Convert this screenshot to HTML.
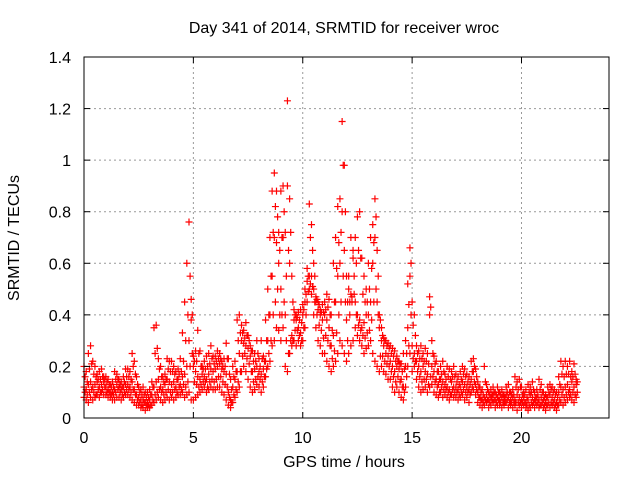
<!DOCTYPE html>
<html><head><meta charset="utf-8"><style>
html,body{margin:0;padding:0;background:#fff;}
svg{display:block;font-family:"Liberation Sans",sans-serif;}
</style></head><body>
<svg id="chart" width="640" height="480" xmlns="http://www.w3.org/2000/svg">
<rect width="640" height="480" fill="#fff"/>
<text x="344" y="33" font-size="16" text-anchor="middle" fill="#000">Day 341 of 2014, SRMTID for receiver wroc</text>
<text x="344" y="467" font-size="16" text-anchor="middle" fill="#000">GPS time / hours</text>
<text x="0" y="0" font-size="16" text-anchor="middle" fill="#000" transform="translate(19,238) rotate(-90)">SRMTID / TECUs</text>
<g id="grid"></g>
<g id="marks"></g>
<rect x="84" y="57" width="525" height="361" fill="none" stroke="#000" stroke-width="1"/>
<g id="ticks"></g>
</svg>
<script>
const xTicks=[0,5,10,15,20];
const yTicks=[0,0.2,0.4,0.6,0.8,1,1.2,1.4];
const yTickLabels=["0","0.2","0.4","0.6","0.8","1","1.2","1.4"];
const tStep=0.1;
const lowVals=[.08,.07,.06,.08,.07,.08,.09,.08,.10,.09,.09,.08,.08,.07,.07,.08,.08,.07,.08,.09,.09,.08,.07,.06,.05,.05,.04,.04,.03,.04,.04,.05,.06,.07,.08,.07,.06,.07,.08,.07,.08,.07,.08,.09,.09,.10,.08,.09,.10,.07,.07,.08,.09,.10,.11,.12,.10,.11,.12,.11,.11,.12,.12,.10,.09,.07,.05,.04,.06,.08,.10,.12,.18,.20,.18,.15,.12,.10,.11,.13,.12,.10,.12,.16,.20,.22,.28,.30,.35,.34,.30,.35,.20,.18,.25,.28,.30,.28,.30,.28,.30,.35,.45,.50,.48,.40,.35,.30,.28,.25,.25,.22,.20,.18,.20,.22,.25,.30,.28,.25,.22,.25,.28,.30,.35,.32,.30,.28,.25,.27,.28,.30,.25,.22,.20,.18,.20,.18,.17,.15,.15,.12,.10,.12,.10,.08,.07,.12,.20,.25,.18,.20,.15,.12,.10,.11,.12,.10,.12,.13,.10,.09,.08,.10,.08,.09,.08,.07,.09,.08,.08,.07,.08,.09,.07,.08,.06,.10,.11,.09,.06,.05,.04,.05,.06,.04,.05,.06,.04,.05,.05,.04,.05,.06,.04,.05,.04,.05,.03,.05,.04,.05,.04,.03,.04,.05,.04,.05,.04,.05,.04,.03,.05,.04,.05,.04,.03,.05,.06,.05,.06,.07,.08,.07,.06,.08];
const lowMidVals=[.10,.09,.10,.11,.10,.09,.11,.10,.11,.12,.10,.10,.09,.09,.10,.11,.10,.09,.10,.11,.11,.10,.11,.09,.07,.06,.05,.06,.05,.05,.05,.07,.09,.10,.11,.10,.09,.10,.11,.10,.10,.11,.10,.12,.11,.13,.12,.14,.20,.25,.14,.13,.12,.13,.14,.14,.12,.14,.15,.14,.15,.16,.16,.14,.13,.12,.08,.06,.09,.11,.14,.18,.24,.25,.23,.21,.18,.14,.15,.16,.15,.14,.16,.19,.25,.30,.40,.45,.50,.40,.40,.45,.30,.25,.30,.30,.34,.34,.32,.30,.35,.40,.49,.52,.51,.45,.40,.36,.34,.31,.32,.30,.28,.23,.26,.33,.40,.45,.55,.45,.30,.40,.45,.48,.40,.36,.34,.32,.31,.33,.34,.38,.45,.50,.40,.24,.24,.22,.21,.20,.18,.16,.14,.16,.14,.12,.10,.16,.28,.40,.23,.22,.18,.16,.14,.15,.15,.13,.16,.16,.14,.12,.10,.12,.11,.11,.10,.09,.11,.10,.10,.09,.10,.11,.10,.10,.09,.12,.14,.11,.08,.07,.06,.07,.07,.06,.07,.07,.06,.07,.06,.06,.06,.07,.06,.06,.06,.06,.06,.06,.06,.06,.05,.05,.06,.06,.06,.06,.05,.06,.05,.05,.06,.06,.06,.05,.05,.07,.09,.08,.09,.10,.09,.10,.09,.10];
const midVals=[.12,.11,.13,.14,.12,.13,.14,.12,.13,.14,.12,.11,.10,.10,.11,.13,.12,.11,.12,.13,.13,.12,.14,.11,.09,.08,.07,.07,.06,.06,.07,.09,.12,.14,.15,.12,.11,.13,.15,.14,.13,.14,.12,.15,.13,.16,.17,.20,.30,.38,.20,.18,.16,.15,.17,.16,.15,.17,.19,.18,.19,.20,.21,.19,.18,.17,.10,.07,.12,.15,.18,.25,.30,.29,.28,.27,.24,.18,.19,.20,.18,.17,.19,.22,.30,.40,.55,.70,.68,.60,.50,.70,.40,.90,.60,.32,.38,.40,.35,.33,.40,.45,.53,.55,.55,.50,.45,.42,.40,.38,.40,.38,.35,.28,.32,.45,.55,.60,.80,.65,.38,.55,.70,.65,.45,.40,.38,.35,.37,.40,.40,.45,.60,.70,.45,.35,.30,.28,.25,.24,.22,.20,.18,.20,.19,.15,.12,.20,.35,.55,.28,.25,.22,.20,.18,.20,.18,.17,.40,.20,.18,.15,.13,.15,.14,.13,.12,.11,.14,.12,.12,.11,.12,.14,.13,.12,.11,.15,.18,.13,.10,.08,.07,.08,.09,.07,.08,.09,.07,.08,.07,.08,.07,.09,.08,.07,.08,.07,.09,.08,.07,.08,.06,.07,.09,.08,.07,.08,.07,.08,.07,.06,.08,.09,.08,.07,.06,.10,.12,.11,.12,.13,.11,.14,.12,.13];
const midHighVals=[.16,.14,.19,.21,.17,.16,.15,.15,.16,.15,.14,.13,.12,.12,.15,.15,.13,.12,.14,.16,.16,.15,.20,.17,.13,.10,.09,.09,.08,.08,.09,.12,.25,.27,.19,.16,.14,.15,.19,.18,.18,.17,.15,.17,.18,.22,.30,.40,.55,.40,.22,.22,.25,.20,.19,.19,.20,.21,.23,.21,.22,.23,.23,.20,.20,.23,.17,.11,.16,.18,.30,.33,.33,.31,.32,.30,.26,.22,.22,.25,.20,.23,.22,.30,.40,.55,.72,.82,.78,.65,.70,.80,.55,.65,.72,.45,.40,.39,.38,.37,.42,.48,.55,.70,.65,.55,.46,.44,.41,.41,.42,.43,.40,.34,.45,.58,.68,.72,.98,.80,.45,.45,.47,.55,.60,.65,.62,.48,.45,.45,.50,.58,.68,.78,.55,.38,.32,.30,.28,.27,.25,.24,.22,.22,.21,.18,.19,.25,.44,.60,.36,.32,.25,.23,.23,.22,.22,.21,.43,.25,.21,.18,.15,.17,.18,.15,.16,.15,.16,.16,.14,.13,.15,.17,.16,.14,.13,.18,.20,.16,.12,.10,.09,.14,.11,.09,.09,.10,.09,.10,.09,.09,.08,.10,.10,.09,.09,.12,.11,.12,.09,.09,.08,.10,.10,.11,.08,.09,.11,.10,.08,.08,.10,.11,.10,.09,.08,.13,.17,.16,.17,.17,.16,.16,.17,.14];
const highVals=[.20,.18,.25,.28,.22,.20,.17,.18,.19,.16,.16,.15,.13,.14,.18,.17,.15,.14,.16,.19,.19,.18,.25,.22,.16,.12,.11,.12,.10,.10,.11,.14,.35,.36,.23,.20,.16,.17,.23,.22,.22,.20,.18,.19,.23,.33,.45,.60,.76,.46,.24,.26,.34,.26,.20,.22,.24,.25,.28,.24,.24,.26,.25,.22,.23,.29,.23,.15,.20,.22,.38,.40,.36,.34,.37,.32,.28,.26,.25,.30,.23,.30,.24,.38,.50,.70,.88,.95,.88,.72,.88,.90,.72,1.23,.85,.55,.42,.38,.41,.42,.44,.50,.58,.83,.75,.60,.47,.45,.42,.44,.45,.48,.46,.40,.60,.70,.82,.85,1.15,.98,.55,.50,.48,.62,.70,.78,.80,.62,.55,.50,.60,.70,.75,.85,.65,.40,.35,.31,.30,.29,.28,.27,.26,.24,.22,.21,.25,.30,.52,.66,.45,.40,.28,.26,.28,.25,.27,.25,.47,.30,.24,.22,.18,.20,.22,.17,.20,.19,.18,.20,.17,.16,.18,.20,.19,.17,.16,.22,.23,.19,.14,.12,.11,.20,.13,.10,.11,.12,.10,.12,.10,.11,.09,.12,.13,.10,.11,.16,.14,.15,.12,.10,.11,.13,.12,.14,.10,.11,.15,.13,.10,.09,.12,.13,.12,.11,.10,.16,.22,.20,.22,.20,.22,.18,.21,.15];
const X0=84,X1=609,Y0=418,Y1=57,XMAX=24,YMAX=1.4;
const sx=v=>X0+(X1-X0)*v/XMAX;
const sy=v=>Y0-(Y0-Y1)*v/YMAX;
const NS="http://www.w3.org/2000/svg";
function mk(tag,attrs,parent){const e=document.createElementNS(NS,tag);for(const k in attrs)e.setAttribute(k,attrs[k]);parent.appendChild(e);return e;}
const grid=document.getElementById('grid'),ticks=document.getElementById('ticks'),marks=document.getElementById('marks');
xTicks.forEach(v=>{const x=sx(v);
 if(v>0){const g=mk('line',{x1:x,x2:x,y1:Y1,y2:Y0,stroke:'#999','stroke-dasharray':'2,3'},grid);
 
 }
 mk('line',{x1:x,x2:x,y1:Y0,y2:Y0-6,stroke:'#000'},ticks);
 mk('line',{x1:x,x2:x,y1:Y1,y2:Y1+6,stroke:'#000'},ticks);
 const t=mk('text',{x:x,y:443,'font-size':16,'text-anchor':'middle',fill:'#000'},ticks);t.textContent=v;
 
 });
yTicks.forEach((v,i)=>{const y=sy(v);
 if(v>0&&v<YMAX){const g=mk('line',{x1:X0,x2:X1,y1:y,y2:y,stroke:'#999','stroke-dasharray':'2,3'},grid);
 
 }
 mk('line',{x1:X0,x2:X0+6,y1:y,y2:y,stroke:'#000'},ticks);
 mk('line',{x1:X1,x2:X1-6,y1:y,y2:y,stroke:'#000'},ticks);
 const t=mk('text',{x:71,y:y+6,'font-size':16,'text-anchor':'end',fill:'#000'},ticks);t.textContent=yTickLabels[i];
 
 });
function plus(t,v,col){const x=sx(t),y=sy(v);
 const p=mk('path',{d:`M${x-3.5},${y}H${x+3.5}M${x},${y-3.5}V${y+3.5}`,stroke:col,'stroke-width':1.2,fill:'none'},marks);
 
 }
[lowVals,midVals,highVals].forEach(arr=>arr.forEach((v,i)=>plus(i*tStep,v,'#f00')));
[lowMidVals,midHighVals].forEach(arr=>arr.forEach((v,i)=>plus(i*tStep+tStep/2,v,'#f00')));
</script>
</body></html>
